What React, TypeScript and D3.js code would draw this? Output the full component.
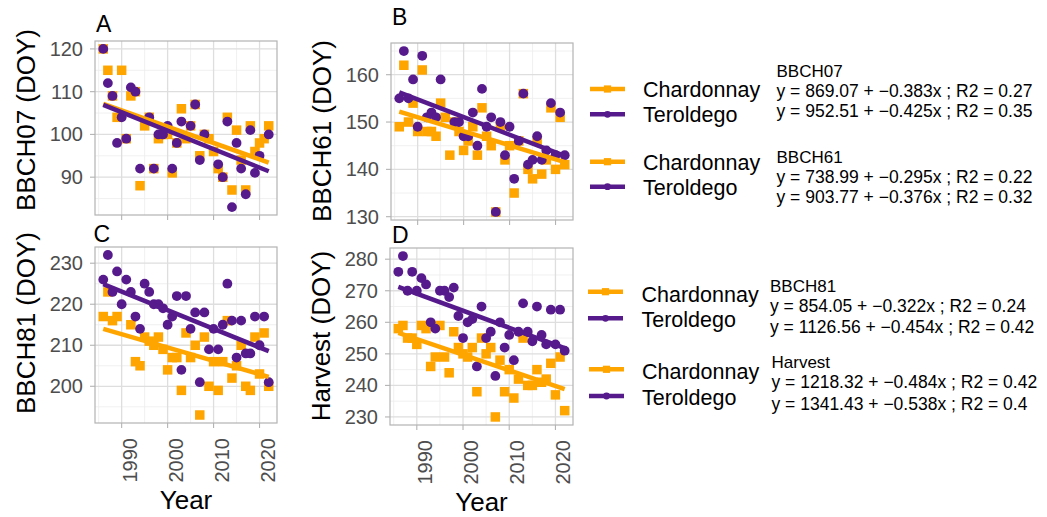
import React from 'react';
import * as d3 from 'd3';

const years = [1986, 1987, 1988, 1989, 1990, 1991, 1992, 1993, 1994, 1995, 1996, 1997, 1998, 1999, 2000, 2001, 2002, 2003, 2004, 2005, 2006, 2007, 2008, 2009, 2010, 2011, 2012, 2013, 2014, 2015, 2016, 2017, 2018, 2019, 2020, 2021, 2022];

const bbch07Chardonnay = [120, 115, 109, 104, 115, 99, 109, 110, 88, 102, 104, 92, 99, 100, 100, 91, 98, 106, 99, 102, 107, 95, 100, 99, 96, 92, 90, 104, 87, 101, 94, 87, 102, 96, 98, 99, 102];
const bbch07Teroldego = [120, 112, 109, 98, 104, 99, 111, 110, 92, null, 104, 92, 100, 100, 102, 92, 98, 103, null, 102, 107, 94, 100, null, null, 93, 90, 103, 83, 98, 92, 86, 101, 91, 95, null, 100];

const bbch61Chardonnay = [149, 162, 150, 154, 148, 161, 148, 148, 147, 154, 151, 143, 150, 148, 144, 146, 149, 143, 153, 147, 145, 131, 149, 142, 145, 135, 146, 156, 140, 138, 146, 139, 142, 153, 140, 151, 141];
const bbch61Teroldego = [155, 165, 155, 159, 149, 164, 151, 152, 151, 159, null, null, 150, 150, 147, 147, 152, 145, 157, 149, 151, 131, 150, 143, 149, 138, 146, 156, 141, 142, 147, 142, 144, 154, 143, 152, 143];

const bbch81Chardonnay = [217, 223, 216, 217, null, null, 215, 206, 205, 212, 211, 210, 212, 209, 204, 207, 207, 199, 213, 207, 210, 193, 212, 200, 206, 199, 206, 216, 202, 205, 210, 200, 199, 212, 203, 213, 200];
const bbch81Teroldego = [226, 232, 223, 228, 220, 226, 223, 217, 214, 225, 223, 220, 220, 219, 215, 217, 222, 204, 222, 214, 218, 201, 218, 209, 214, 209, 215, 225, 216, 207, 216, 208, 208, 217, 210, 217, 201];

const harvestChardonnay = [258, 259, 255, 255, 253, 259, 258, 246, 249, 259, 249, 244, 257, 252, 250, 249, 252, 238, 255, 250, 252, 230, 248, 238, 245, 236, 242, 255, 240, 240, 245, 241, 242, 247, 237, 249, 232];
const harvestTeroldego = [276, 281, 270, 276, 270, 274, 272, 260, 258, 270, 270, 268, 271, 262, 255, 260, 261, 246, 265, 255, 257, 243, 260, 252, 256, 248, 257, 266, 257, 254, 265, 256, 253, 264, 253, 264, 251];

const varieties = ['Chardonnay', 'Teroldego'];
const varietyColors = ['#FFA500', '#561A8C'];
const panelLetters = ['A', 'B', 'C', 'D'];
const stageNames = ['BBCH07', 'BBCH61', 'BBCH81', 'Harvest'];
const yTitles = ['BBCH07 (DOY)', 'BBCH61 (DOY)', 'BBCH81 (DOY)', 'Harvest (DOY)'];
const yTickValues = [[90, 100, 110, 120], [130, 140, 150, 160], [200, 210, 220, 230], [230, 240, 250, 260, 270, 280]];
const xTickValues = [1990, 2000, 2010, 2020];
const equationsChardonnay = [
  'y = 869.07 + \u22120.383x ; R2 = 0.27',
  'y = 738.99 + \u22120.295x ; R2 = 0.22',
  'y = 854.05 + \u22120.322x ; R2 = 0.24',
  'y = 1218.32 + \u22120.484x ; R2 = 0.42',
];
const equationsTeroldego = [
  'y = 952.51 + \u22120.425x ; R2 = 0.35',
  'y = 903.77 + \u22120.376x ; R2 = 0.32',
  'y = 1126.56 + \u22120.454x ; R2 = 0.42',
  'y = 1341.43 + \u22120.538x ; R2 = 0.4',
];

const seriesByPanel = [
  [bbch07Chardonnay, bbch07Teroldego],
  [bbch61Chardonnay, bbch61Teroldego],
  [bbch81Chardonnay, bbch81Teroldego],
  [harvestChardonnay, harvestTeroldego],
];

const FONT = "'Liberation Sans', Arial, Helvetica, sans-serif";

const panelBoxes = [
  { x0: 95, x1: 277, y0: 41, y1: 215, titleX: 26, titleY: 120, showX: false, yearY: 0, letterX: 96, letterY: 31.5 },
  { x0: 391, x1: 573, y0: 43, y1: 220, titleX: 322, titleY: 131, showX: false, yearY: 0, letterX: 392, letterY: 25 },
  { x0: 95, x1: 277, y0: 247, y1: 423, titleX: 26, titleY: 323, showX: true, yearY: 509, letterX: 93.5, letterY: 241.5 },
  { x0: 390, x1: 573, y0: 248, y1: 425, titleX: 321, titleY: 336, showX: true, yearY: 511, letterX: 392, letterY: 243 },
];

const legendBoxes = [
  { keyX: 590, keyY: [89, 114.3], labelX: 643, labelY: [96.7, 121.7], eqX: 776.5, headY: 76.7, eqY: [96.7, 116.7] },
  { keyX: 590, keyY: [161.7, 186.7], labelX: 643, labelY: [170, 195], eqX: 776.5, headY: 163.3, eqY: [182.7, 202.7] },
  { keyX: 588, keyY: [291.7, 318.3], labelX: 641.5, labelY: [301.7, 326.7], eqX: 770, headY: 291.7, eqY: [311.7, 332.7] },
  { keyX: 589, keyY: [369.3, 396], labelX: 642, labelY: [379.3, 405], eqX: 771.5, headY: 368.3, eqY: [388.3, 410] },
];

function expand(ext: [number, number], frac = 0.05): [number, number] {
  const d = (ext[1] - ext[0]) * frac;
  return [ext[0] - d, ext[1] + d];
}

function fit(xs: number[], ys: (number | null)[]) {
  const pts = xs.map((x, i) => [x, ys[i]] as [number, number | null]).filter((p) => p[1] != null) as [number, number][];
  const mx = d3.mean(pts, (p) => p[0])!;
  const my = d3.mean(pts, (p) => p[1])!;
  let sxy = 0, sxx = 0;
  pts.forEach(([x, y]) => { sxy += (x - mx) * (y - my); sxx += (x - mx) * (x - mx); });
  const b = sxy / sxx;
  const a = my - b * mx;
  const ext = d3.extent(pts, (p) => p[0]) as [number, number];
  return { a, b, ext };
}

function minorBreaks(majors: number[], domain: [number, number]) {
  const step = majors[1] - majors[0];
  const out: number[] = [];
  for (let i = -1; i < majors.length; i++) {
    const v = (i < 0 ? majors[0] - step : majors[i]) + step / 2;
    if (v >= domain[0] && v <= domain[1]) out.push(v);
  }
  return out;
}

function Panel({ idx }: { idx: number }) {
  const box = panelBoxes[idx];
  const series = seriesByPanel[idx];
  const xScale = d3.scaleLinear().domain(expand(d3.extent(years) as [number, number])).range([box.x0, box.x1]);
  const allVals = series.flat().filter((v) => v != null) as number[];
  const yScale = d3.scaleLinear().domain(expand(d3.extent(allVals) as [number, number])).range([box.y1, box.y0]);
  const xMinor = minorBreaks(xTickValues, xScale.domain() as [number, number]);
  const yMinor = minorBreaks(yTickValues[idx], yScale.domain() as [number, number]);
  const line = d3.line<[number, number]>().x((d) => xScale(d[0])).y((d) => yScale(d[1]));
  const sq = 9.5;
  return (
    <g>
      <text x={box.letterX} y={box.letterY} fontSize={23} fill="#000" fontFamily={FONT}>{panelLetters[idx]}</text>
      <rect x={box.x0} y={box.y0} width={box.x1 - box.x0} height={box.y1 - box.y0} fill="#fff" />
      {xMinor.map((v) => (
        <line key={'xm' + v} x1={xScale(v)} x2={xScale(v)} y1={box.y0} y2={box.y1} stroke="#ececec" strokeWidth={0.8} />
      ))}
      {yMinor.map((v) => (
        <line key={'ym' + v} x1={box.x0} x2={box.x1} y1={yScale(v)} y2={yScale(v)} stroke="#ececec" strokeWidth={0.8} />
      ))}
      {xTickValues.map((v) => (
        <line key={'xM' + v} x1={xScale(v)} x2={xScale(v)} y1={box.y0} y2={box.y1} stroke="#dedede" strokeWidth={1.3} />
      ))}
      {yTickValues[idx].map((v) => (
        <line key={'yM' + v} x1={box.x0} x2={box.x1} y1={yScale(v)} y2={yScale(v)} stroke="#dedede" strokeWidth={1.3} />
      ))}
      {years.map((yr, i) => {
        const v = series[0][i];
        if (v == null) return null;
        return <rect key={'c' + yr} x={xScale(yr) - sq / 2} y={yScale(v) - sq / 2} width={sq} height={sq} fill={varietyColors[0]} />;
      })}
      {years.map((yr, i) => {
        const v = series[1][i];
        if (v == null) return null;
        return <circle key={'t' + yr} cx={xScale(yr)} cy={yScale(v)} r={4.9} fill={varietyColors[1]} />;
      })}
      {series.map((s, k) => {
        const f = fit(years, s);
        const pts: [number, number][] = [[f.ext[0], f.a + f.b * f.ext[0]], [f.ext[1], f.a + f.b * f.ext[1]]];
        return <path key={'fit' + k} d={line(pts) || ''} stroke={varietyColors[k]} strokeWidth={4.5} fill="none" />;
      })}
      <rect x={box.x0} y={box.y0} width={box.x1 - box.x0} height={box.y1 - box.y0} fill="none" stroke="#b3b3b3" strokeWidth={1.2} />
      {yTickValues[idx].map((v) => (
        <g key={'yt' + v}>
          <line x1={box.x0 - 5} x2={box.x0} y1={yScale(v)} y2={yScale(v)} stroke="#b3b3b3" strokeWidth={1.1} />
          <text x={box.x0 - 12} y={yScale(v)} dy="0.35em" textAnchor="end" fontSize={20} fill="#4d4d4d" fontFamily={FONT}>{v}</text>
        </g>
      ))}
      {xTickValues.map((v) => (
        <g key={'xt' + v}>
          <line x1={xScale(v)} x2={xScale(v)} y1={box.y1} y2={box.y1 + 5} stroke="#b3b3b3" strokeWidth={1.1} />
          {box.showX && (
            <text transform={`translate(${xScale(v) + 15},${box.y1 + 15}) rotate(-90)`} textAnchor="end" fontSize={20} fill="#4d4d4d" fontFamily={FONT}>{v}</text>
          )}
        </g>
      ))}
      <text transform={`translate(${box.titleX},${box.titleY}) rotate(-90)`} textAnchor="middle" dy="0.35em" fontSize={26} fill="#000" fontFamily={FONT}>{yTitles[idx]}</text>
      {box.showX && (
        <text x={(box.x0 + box.x1) / 2} y={box.yearY} textAnchor="middle" fontSize={26} fill="#000" fontFamily={FONT}>Year</text>
      )}
    </g>
  );
}

function Legend({ idx }: { idx: number }) {
  const lb = legendBoxes[idx];
  const eqs = [equationsChardonnay[idx], equationsTeroldego[idx]];
  return (
    <g>
      {varieties.map((name, k) => (
        <g key={name}>
          <line x1={lb.keyX} x2={lb.keyX + 35} y1={lb.keyY[k]} y2={lb.keyY[k]} stroke={varietyColors[k]} strokeWidth={4.5} />
          {k === 0 ? (
            <rect x={lb.keyX + 17.5 - 3.6} y={lb.keyY[k] - 3.6} width={7.2} height={7.2} fill={varietyColors[k]} />
          ) : (
            <circle cx={lb.keyX + 17.5} cy={lb.keyY[k]} r={3.4} fill={varietyColors[k]} />
          )}
          <text x={lb.labelX} y={lb.labelY[k]} fontSize={21.5} fill="#000" fontFamily={FONT}>{name}</text>
          <text x={lb.eqX} y={lb.eqY[k]} fontSize={17.5} fill="#000" fontFamily={FONT}>{eqs[k]}</text>
        </g>
      ))}
      <text x={lb.eqX} y={lb.headY} fontSize={17} fill="#000" fontFamily={FONT}>{stageNames[idx]}</text>
    </g>
  );
}

export default function App() {
  return (
    <svg width={1047} height={517} style={{ position: 'absolute', left: 0, top: 0, background: '#fff' }}>
      <rect x={0} y={0} width={1047} height={517} fill="#fff" />
      {[0, 1, 2, 3].map((i) => <Panel key={i} idx={i} />)}
      {[0, 1, 2, 3].map((i) => <Legend key={i} idx={i} />)}
    </svg>
  );
}
